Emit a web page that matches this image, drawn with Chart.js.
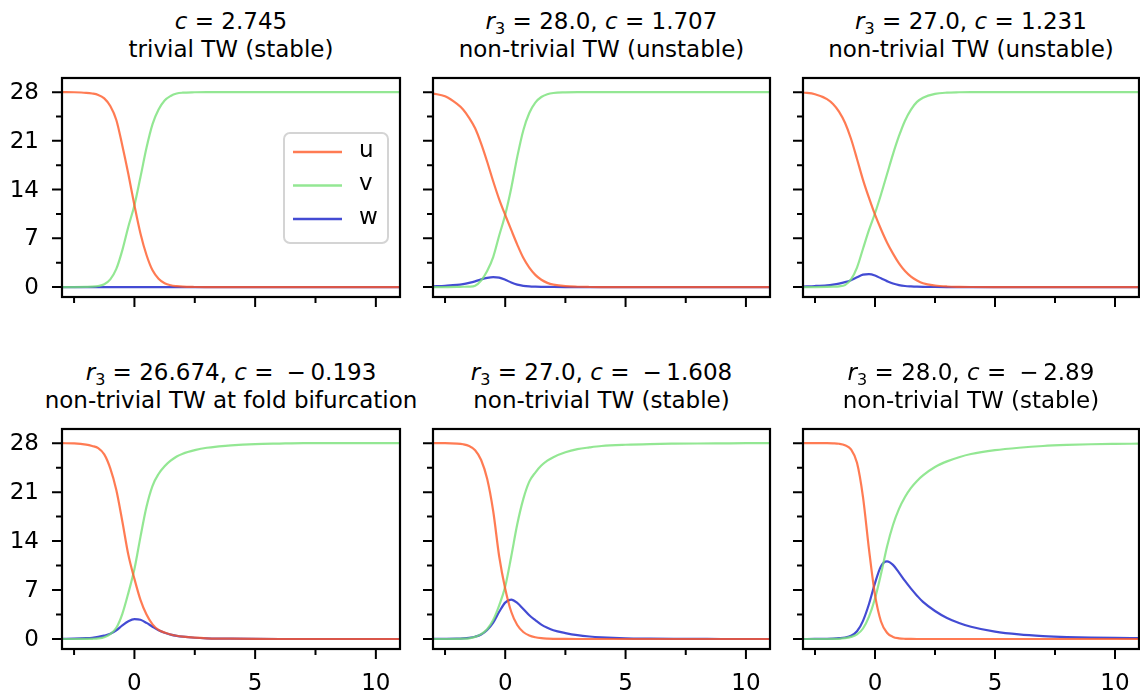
<!DOCTYPE html>
<html>
<head>
<meta charset="utf-8">
<script src="https://cdn.jsdelivr.net/npm/chart.js@4.4.1/dist/chart.umd.min.js"></script>
<style>
  body { margin: 0; background: #fff; overflow: hidden; }
  #fig { position: relative; width: 1140px; height: 697px; font-family: 'DejaVu Sans', sans-serif; }
  #fig canvas { position: absolute; }
  .ttl { position: absolute; text-align: center; font-size: 23px; line-height: 28px; white-space: nowrap; color: #000; }
  .ttl sub { font-size: 16px; vertical-align: -5px; line-height: 0; }
</style>
</head>
<body>
<div id="fig"></div>
<script>
// travelling-coordinate samples shared by every profile
const xs = [-3, -2.5, -2, -1.75, -1.5, -1.25, -1, -0.75, -0.5, -0.25,
            0, 0.25, 0.5, 0.75, 1, 1.25, 1.5, 1.75, 2, 2.5,
            3, 3.5, 4, 5, 6, 7, 8, 9, 10, 11];

// c = 2.745, trivial wave
const u1 = [28.0, 27.98, 27.9, 27.8, 27.6, 27.1, 26.0, 24.0, 20.3, 16.2,
            11.75, 7.7, 4.6, 2.4, 1.2, 0.55, 0.25, 0.12, 0.05, 0.01,
            0, 0, 0, 0, 0, 0, 0, 0, 0, 0];
const v1 = [0, 0, 0.02, 0.05, 0.15, 0.4, 1.1, 2.6, 5.3, 8.7,
            11.75, 15.8, 20.0, 23.4, 25.5, 26.8, 27.45, 27.8, 27.92, 27.98,
            28, 28, 28, 28, 28, 28, 28, 28, 28, 28];
const w1 = [0, 0, 0, 0, 0, 0, 0, 0, 0, 0,
            0, 0, 0, 0, 0, 0, 0, 0, 0, 0,
            0, 0, 0, 0, 0, 0, 0, 0, 0, 0];

// r3 = 28.0, c = 1.707
const u2 = [27.8, 27.4, 26.3, 25.5, 24.3, 22.8, 20.6, 18.0, 15.2, 12.6,
            10.35, 8.2, 6.1, 4.2, 2.8, 1.75, 1.05, 0.6, 0.35, 0.12,
            0.04, 0.01, 0, 0, 0, 0, 0, 0, 0, 0];
const v2 = [0, 0, 0.02, 0.04, 0.06, 0.2, 0.95, 2.3, 4.3, 7.4,
            10.4, 14.2, 18.7, 22.5, 25.0, 26.5, 27.3, 27.7, 27.88, 27.97,
            28, 28, 28, 28, 28, 28, 28, 28, 28, 28];
const w2 = [0.1, 0.18, 0.3, 0.42, 0.6, 0.82, 1.1, 1.32, 1.43, 1.35,
            1.05, 0.65, 0.35, 0.18, 0.09, 0.05, 0.03, 0.02, 0.01, 0,
            0, 0, 0, 0, 0, 0, 0, 0, 0, 0];

// r3 = 27.0, c = 1.231
const u3 = [27.95, 27.7, 27.0, 26.3, 25.2, 23.6, 21.3, 18.4, 15.4, 12.8,
            10.4, 8.3, 6.4, 4.8, 3.4, 2.3, 1.5, 0.95, 0.55, 0.22,
            0.08, 0.03, 0.01, 0, 0, 0, 0, 0, 0, 0];
const v3 = [0, 0, 0.02, 0.05, 0.1, 0.28, 1.1, 2.8, 5.5, 8.2,
            10.6, 13.3, 16.2, 19.1, 21.7, 23.9, 25.5, 26.6, 27.2, 27.75,
            27.93, 27.98, 28, 28, 28, 28, 28, 28, 28, 28];
const w3 = [0.08, 0.15, 0.26, 0.36, 0.5, 0.7, 0.98, 1.4, 1.78, 1.85,
            1.65, 1.25, 0.85, 0.5, 0.28, 0.15, 0.09, 0.05, 0.03, 0.01,
            0, 0, 0, 0, 0, 0, 0, 0, 0, 0];

// r3 = 26.674, c = -0.193 (fold)
const u4 = [28.0, 27.97, 27.8, 27.6, 27.3, 26.4, 24.4, 21.3, 16.8, 12.0,
            8.6, 5.6, 3.5, 2.1, 1.3, 0.92, 0.65, 0.46, 0.34, 0.19,
            0.1, 0.06, 0.04, 0.01, 0, 0, 0, 0, 0, 0];
const v4 = [0, 0, 0.01, 0.03, 0.08, 0.25, 0.7, 1.6, 3.6, 6.6,
            10.0, 14.6, 18.9, 21.9, 23.6, 24.7, 25.5, 26.1, 26.5, 27.0,
            27.35, 27.55, 27.7, 27.88, 27.95, 28, 28, 28, 28, 28];
const w4 = [0.02, 0.05, 0.12, 0.18, 0.3, 0.48, 0.75, 1.25, 1.95, 2.55,
            2.85, 2.75, 2.3, 1.75, 1.25, 0.9, 0.63, 0.45, 0.33, 0.18,
            0.1, 0.06, 0.04, 0.01, 0, 0, 0, 0, 0, 0];

// r3 = 27.0, c = -1.608
const u5 = [28, 28, 27.95, 27.85, 27.6, 27.0, 25.6, 22.9, 18.3, 11.8,
            7.2, 3.9, 2.0, 1.0, 0.5, 0.25, 0.12, 0.06, 0.03, 0.01,
            0, 0, 0, 0, 0, 0, 0, 0, 0, 0];
const v5 = [0, 0, 0.02, 0.04, 0.1, 0.3, 0.7, 1.4, 2.7, 4.8,
            7.5, 11.8, 16.4, 20.0, 22.5, 23.8, 24.8, 25.5, 26.0, 26.7,
            27.15, 27.4, 27.6, 27.78, 27.88, 27.93, 27.96, 27.98, 28, 28];
const w5 = [0.01, 0.02, 0.05, 0.09, 0.17, 0.33, 0.65, 1.3, 2.35, 3.9,
            5.2, 5.62, 5.15, 4.3, 3.4, 2.7, 2.05, 1.6, 1.25, 0.85,
            0.55, 0.36, 0.24, 0.1, 0.05, 0.02, 0.01, 0, 0, 0];

// r3 = 28.0, c = -2.89
const u6 = [28, 28, 28, 27.98, 27.92, 27.7, 27.1, 25.2, 20.3, 12.8,
            6.3, 2.5, 0.9, 0.3, 0.1, 0.03, 0.01, 0, 0, 0,
            0, 0, 0, 0, 0, 0, 0, 0, 0, 0];
const v6 = [0, 0, 0, 0.01, 0.03, 0.12, 0.3, 0.65, 1.5, 3.2,
            5.8, 9.3, 13.2, 16.3, 18.6, 20.3, 21.6, 22.6, 23.4, 24.6,
            25.4, 26.0, 26.45, 27.0, 27.35, 27.6, 27.75, 27.85, 27.9, 27.93];
const w6 = [0, 0.01, 0.03, 0.06, 0.12, 0.22, 0.45, 1.1, 2.6, 5.0,
            8.0, 10.4, 11.1, 10.6, 9.5, 8.3, 7.2, 6.2, 5.3, 4.0,
            3.0, 2.3, 1.75, 1.05, 0.65, 0.42, 0.28, 0.2, 0.15, 0.12];

const seriesNames = ['u', 'v', 'w'];
const seriesColors = ['rgba(255, 90, 40, 0.8)', 'rgba(120, 225, 120, 0.8)', 'rgba(20, 30, 200, 0.8)'];

const xMajor = [0, 5, 10];
const xMinor = [-2.5, 2.5, 7.5];
const yMajor = [0, 7, 14, 21, 28];
const yMinor = [3.5, 10.5, 17.5, 24.5];
const xRange = [-3, 11];
const yRange = [-1.43, 30.03];

const titles = [
  '<i>c</i> = 2.745<br>trivial TW (stable)',
  '<i>r</i><sub>3</sub> = 28.0, <i>c</i> = 1.707<br>non-trivial TW (unstable)',
  '<i>r</i><sub>3</sub> = 27.0, <i>c</i> = 1.231<br>non-trivial TW (unstable)',
  '<i>r</i><sub>3</sub> = 26.674, <i>c</i> = &#8197;&#8722;&#8201;0.193<br>non-trivial TW at fold bifurcation',
  '<i>r</i><sub>3</sub> = 27.0, <i>c</i> = &#8197;&#8722;&#8201;1.608<br>non-trivial TW (stable)',
  '<i>r</i><sub>3</sub> = 28.0, <i>c</i> = &#8197;&#8722;&#8201;2.89<br>non-trivial TW (stable)'
];

const profiles = [[u1, v1, w1], [u2, v2, w2], [u3, v3, w3], [u4, v4, w4], [u5, v5, w5], [u6, v6, w6]];

// axes boxes on the page: left, top, right, bottom
const frames = [
  [62, 78, 400, 297], [433, 78, 770, 297], [803, 78, 1139, 297],
  [62, 429, 400, 649], [433, 429, 770, 649], [803, 429, 1139, 649]
];

const LEFT = 62, BOTTOM = 48, PAD = 6;
const FONT = '23px "DejaVu Sans"';

// spines, major/minor tick marks and tick labels, placed with the chart's own scales
const frameTicks = {
  id: 'frameTicks',
  afterDatasetsDraw(chart, args, opts) {
    const { ctx, chartArea: a, scales: { x, y } } = chart;
    ctx.save();
    ctx.strokeStyle = '#000';
    ctx.lineWidth = 2;
    ctx.beginPath();
    const xt = (vals, len) => vals.forEach(v => {
      const p = x.getPixelForValue(v);
      ctx.moveTo(p, a.bottom); ctx.lineTo(p, a.bottom + len);
    });
    const yt = (vals, len) => vals.forEach(v => {
      const p = y.getPixelForValue(v);
      ctx.moveTo(a.left, p); ctx.lineTo(a.left - len, p);
    });
    xt(xMajor, 10); xt(xMinor, 6);
    yt(yMajor, 10); yt(yMinor, 6);
    ctx.stroke();
    ctx.lineWidth = 2.2;
    ctx.strokeRect(a.left, a.top, a.right - a.left, a.bottom - a.top);

    ctx.fillStyle = '#000';
    ctx.font = FONT;
    ctx.textBaseline = 'middle';
    if (opts.xLabels) {
      ctx.textAlign = 'center';
      xMajor.forEach(v => ctx.fillText(String(v), x.getPixelForValue(v), a.bottom + 35));
    }
    if (opts.yLabels) {
      ctx.textAlign = 'right';
      yMajor.forEach(v => ctx.fillText(String(v), a.left - 23, y.getPixelForValue(v) + 1));
    }
    ctx.restore();
  }
};

// matplotlib-style legend box inside the first panel
const boxLegend = {
  id: 'boxLegend',
  afterDraw(chart, args, opts) {
    if (!opts.show) return;
    const { ctx, chartArea: a } = chart;
    const bx = a.left + 222, by = a.top + 55, bw = 104, bh = 110, r = 6;
    ctx.save();
    ctx.beginPath();
    ctx.roundRect(bx, by, bw, bh, r);
    ctx.fillStyle = 'rgba(255,255,255,0.8)';
    ctx.fill();
    ctx.strokeStyle = '#d4d4d4';
    ctx.lineWidth = 2;
    ctx.stroke();
    ctx.font = FONT;
    ctx.textBaseline = 'middle';
    ctx.fillStyle = '#000';
    chart.data.datasets.forEach((ds, i) => {
      const ry = by + 19 + i * 33.5;
      ctx.strokeStyle = ds.borderColor;
      ctx.lineWidth = 2.4;
      ctx.beginPath();
      ctx.moveTo(bx + 9, ry); ctx.lineTo(bx + 58, ry);
      ctx.stroke();
      ctx.fillText(ds.label, bx + 75, ry - 1);
    });
    ctx.restore();
  }
};

const fig = document.getElementById('fig');

frames.forEach((f, k) => {
  const [fl, ft, fr, fb] = f;

  const t = document.createElement('div');
  t.className = 'ttl';
  t.style.left = (fl - 60) + 'px';
  t.style.width = (fr - fl + 120) + 'px';
  t.style.top = (ft - 71) + 'px';
  t.innerHTML = titles[k];
  fig.appendChild(t);

  const cv = document.createElement('canvas');
  const w = fr - fl + LEFT + PAD, h = fb - ft + PAD + BOTTOM;
  cv.width = w; cv.height = h;
  cv.style.left = (fl - LEFT) + 'px';
  cv.style.top = (ft - PAD) + 'px';
  cv.style.width = w + 'px'; cv.style.height = h + 'px';
  fig.appendChild(cv);

  new Chart(cv, {
    type: 'line',
    data: {
      datasets: profiles[k].map((vals, i) => ({
        label: seriesNames[i],
        data: xs.map((x, j) => ({ x: x, y: vals[j] })),
        borderColor: seriesColors[i],
        borderWidth: 2.2,
        pointRadius: 0,
        fill: false,
        cubicInterpolationMode: 'monotone'
      }))
    },
    options: {
      responsive: false,
      animation: false,
      devicePixelRatio: 1,
      layout: { autoPadding: false, padding: { top: PAD, right: PAD, left: 0, bottom: 0 } },
      plugins: {
        legend: { display: false },
        tooltip: { enabled: false },
        boxLegend: { show: k === 0 },
        frameTicks: { xLabels: k >= 3, yLabels: k % 3 === 0 }
      },
      scales: {
        x: {
          type: 'linear', min: xRange[0], max: xRange[1],
          grid: { display: false, drawTicks: false },
          border: { display: false },
          ticks: { display: false },
          afterFit: s => { s.height = BOTTOM; }
        },
        y: {
          type: 'linear', min: yRange[0], max: yRange[1],
          grid: { display: false, drawTicks: false },
          border: { display: false },
          ticks: { display: false },
          afterFit: s => { s.width = LEFT; }
        }
      }
    },
    plugins: [frameTicks, boxLegend]
  });
});
</script>
</body>
</html>
